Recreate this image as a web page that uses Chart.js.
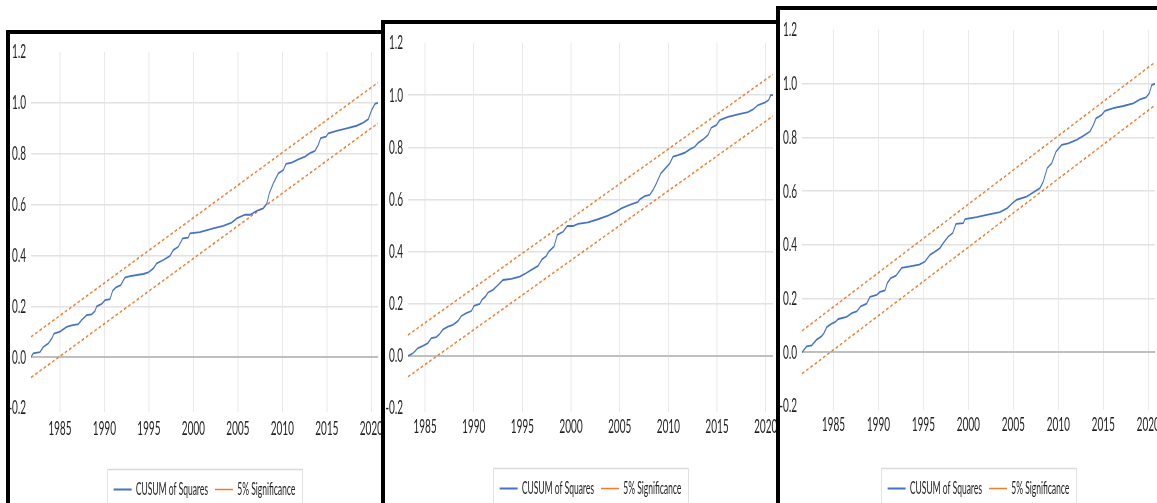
<!DOCTYPE html>
<html>
<head>
<meta charset="utf-8">
<title>CUSUM of Squares</title>
<script src="https://cdn.jsdelivr.net/npm/chart.js@4.4.1/dist/chart.umd.min.js"></script>
<style>
  html, body { margin: 0; padding: 0; background: #fff; width: 1157px; height: 503px; overflow: hidden; }
  .panel { position: absolute; box-sizing: border-box; border: 4px solid #000; background: #fff; overflow: hidden; }
  .squeeze { transform: scaleX(0.5); transform-origin: 0 0; }
  canvas { display: block; }
</style>
</head>
<body>
<div class="panel" style="left:6px; top:30px; width:379px; height:520px;">
  <div class="squeeze"><canvas id="chartA" width="742" height="480"></canvas></div>
</div>
<div class="panel" style="left:381px; top:20px; width:399px; height:520px;">
  <div class="squeeze"><canvas id="chartB" width="782" height="490"></canvas></div>
</div>
<div class="panel" style="left:776px; top:6px; width:400px; height:520px;">
  <div class="squeeze"><canvas id="chartC" width="756" height="500"></canvas></div>
</div>

<script>
// Axis ticks
const xTickValues = [1985, 1990, 1995, 2000, 2005, 2010, 2015, 2020];
const xTickLabels = ['1985', '1990', '1995', '2000', '2005', '2010', '2015', '2020'];
const yTickValues = [-0.2, 0, 0.2, 0.4, 0.6, 0.8, 1.0, 1.2];
const yTickLabels = ['-0.2', '0.0', '0.2', '0.4', '0.6', '0.8', '1.0', '1.2'];

// 5% significance band: values at the first and last observation
const bandUpper = [0.08, 1.08];
const bandLower = [-0.08, 0.92];

// Model A
const yearsA = [
  1981.75, 1982.0, 1982.76, 1983.13, 1983.7, 1984.08, 1984.34, 1985.01, 1985.76, 1986.32,
  1987.07, 1987.45, 1988.0, 1988.57, 1988.94, 1989.13, 1989.7, 1990.07, 1990.63, 1990.93,
  1991.3, 1991.83, 1992.3, 1992.88, 1994.37, 1994.93, 1995.5, 1995.88, 1996.62, 1997.37,
  1997.74, 1998.3, 1998.8, 1999.43, 1999.62, 2000.74, 2002.24, 2003.36, 2004.3, 2004.87,
  2005.8, 2006.37, 2007.12, 2007.86, 2008.24, 2008.53, 2008.98, 2009.55, 2010.11, 2010.41,
  2011.05, 2011.79, 2012.55, 2013.1, 2013.67, 2014.04, 2014.31, 2014.9, 2015.17, 2016.1,
  2017.23, 2018.35, 2019.1, 2019.66, 2020.04, 2020.41, 2020.75
];
const cusumA = [
  0, 0.015, 0.02, 0.04, 0.054, 0.073, 0.093, 0.10, 0.119, 0.125,
  0.13, 0.146, 0.165, 0.168, 0.181, 0.20, 0.209, 0.224, 0.228, 0.261,
  0.274, 0.283, 0.313, 0.319, 0.327, 0.333, 0.349, 0.369, 0.382, 0.398,
  0.421, 0.434, 0.467, 0.47, 0.487, 0.492, 0.506, 0.516, 0.529, 0.546,
  0.56, 0.56, 0.575, 0.585, 0.603, 0.644, 0.683, 0.723, 0.736, 0.76,
  0.765, 0.778, 0.789, 0.802, 0.811, 0.835, 0.861, 0.867, 0.88, 0.89,
  0.90, 0.91, 0.922, 0.936, 0.972, 0.996, 1.0
];

// Model B
const yearsB = [
  1983.25, 1983.76, 1984.28, 1984.79, 1985.3, 1985.65, 1986.16, 1986.5, 1986.85, 1987.36,
  1987.87, 1988.39, 1988.73, 1989.24, 1989.76, 1990.03, 1990.62, 1990.85, 1991.2, 1991.47,
  1991.98, 1992.5, 1993.01, 1993.86, 1994.73, 1995.24, 1995.92, 1996.61, 1997.02, 1997.46,
  1997.71, 1998.25, 1998.59, 1999.18, 1999.62, 2000.2, 2000.72, 2001.74, 2002.77, 2003.8,
  2004.65, 2005.17, 2006.03, 2006.88, 2007.06, 2007.57, 2008.08, 2008.42, 2008.77, 2009.22,
  2009.69, 2010.14, 2010.48, 2011.0, 2011.68, 2012.2, 2012.71, 2013.05, 2013.56, 2014.07,
  2014.41, 2014.93, 2015.27, 2016.13, 2017.15, 2018.18, 2018.7, 2019.21, 2019.9, 2020.31,
  2020.51, 2020.75
];
const cusumB = [
  0, 0.01, 0.03, 0.038, 0.049, 0.068, 0.072, 0.084, 0.102, 0.112,
  0.119, 0.134, 0.153, 0.164, 0.172, 0.192, 0.199, 0.215, 0.227, 0.243,
  0.253, 0.272, 0.291, 0.295, 0.304, 0.314, 0.33, 0.345, 0.37, 0.383,
  0.40, 0.419, 0.464, 0.476, 0.498, 0.498, 0.506, 0.512, 0.524, 0.538,
  0.553, 0.566, 0.579, 0.591, 0.60, 0.613, 0.617, 0.636, 0.662, 0.70,
  0.719, 0.738, 0.764, 0.77, 0.779, 0.792, 0.802, 0.817, 0.83, 0.847,
  0.875, 0.885, 0.904, 0.917, 0.926, 0.935, 0.945, 0.962, 0.971, 0.981,
  1.0, 1.0
];

// Model C
const yearsC = [
  1981.5, 1982.02, 1982.58, 1983.13, 1983.69, 1983.95, 1984.25, 1984.8, 1985.17, 1985.54,
  1986.47, 1987.03, 1987.58, 1988.03, 1988.69, 1989.06, 1989.81, 1990.17, 1990.73, 1990.99,
  1991.36, 1991.95, 1992.58, 1993.51, 1994.54, 1995.18, 1995.73, 1996.29, 1996.84, 1997.21,
  1997.77, 1998.26, 1998.62, 1999.44, 1999.62, 2000.92, 2002.04, 2003.51, 2004.33, 2004.82,
  2005.37, 2006.48, 2007.22, 2007.96, 2008.33, 2008.77, 2009.26, 2009.74, 2010.37, 2011.11,
  2012.04, 2012.78, 2013.52, 2013.89, 2014.19, 2014.82, 2015.19, 2016.11, 2017.23, 2018.34,
  2019.08, 2019.75, 2020.11, 2020.38, 2020.75
];
const cusumC = [
  0, 0.022, 0.026, 0.047, 0.06, 0.072, 0.094, 0.107, 0.112, 0.124,
  0.132, 0.146, 0.152, 0.171, 0.181, 0.206, 0.214, 0.225, 0.23, 0.258,
  0.276, 0.285, 0.314, 0.32, 0.326, 0.338, 0.363, 0.375, 0.388, 0.407,
  0.431, 0.444, 0.478, 0.481, 0.496, 0.503, 0.512, 0.522, 0.537, 0.553,
  0.568, 0.58, 0.595, 0.611, 0.636, 0.686, 0.704, 0.747, 0.772, 0.778,
  0.791, 0.806, 0.822, 0.846, 0.871, 0.884, 0.899, 0.909, 0.917, 0.927,
  0.942, 0.949, 0.964, 0.995, 1.0
];

const BLUE = '#4472C4';
const ORANGE = '#ED7D31';
const TEXT = '#1f1f1f';
const FONT = 'Lato, "Open Sans", "Liberation Sans", sans-serif';

// Thin grey frame around the legend entries
const legendFrame = {
  id: 'legendFrame',
  afterDraw(chart) {
    const boxes = chart.legend && chart.legend.legendHitBoxes;
    if (!boxes || !boxes.length) return;
    const first = boxes[0];
    const last = boxes[boxes.length - 1];
    const cy = first.top + first.height / 2;
    const left = first.left - 12;
    const right = last.left + last.width + 14;
    const c = chart.ctx;
    c.save();
    c.strokeStyle = '#d9d9d9';
    c.lineWidth = 1.5;
    c.strokeRect(left, cy - 20, right - left, 46);
    c.restore();
  }
};

function buildChart(id, years, cusum, layout) {
  const xMin = years[0];
  const xMax = years[years.length - 1];
  const toPoints = (xs, ys) => xs.map((x, i) => ({ x: x, y: ys[i] }));
  return new Chart(document.getElementById(id), {
    type: 'line',
    data: {
      datasets: [
        {
          label: 'CUSUM of Squares',
          data: toPoints(years, cusum),
          borderColor: BLUE,
          backgroundColor: BLUE,
          borderWidth: 1.8,
          pointRadius: 0,
          tension: 0
        },
        {
          label: '5% Significance',
          data: toPoints([xMin, xMax], bandUpper),
          borderColor: ORANGE,
          backgroundColor: ORANGE,
          borderWidth: 1.7,
          borderDash: [5, 4],
          pointRadius: 0
        },
        {
          label: '5% Significance',
          hideInLegend: true,
          data: toPoints([xMin, xMax], bandLower),
          borderColor: ORANGE,
          backgroundColor: ORANGE,
          borderWidth: 1.7,
          borderDash: [5, 4],
          pointRadius: 0
        }
      ]
    },
    options: {
      responsive: false,
      animation: false,
      devicePixelRatio: 1,
      events: [],
      layout: {
        padding: { left: 0, right: layout.padRight, top: layout.plotTop, bottom: layout.padBottom }
      },
      plugins: {
        tooltip: { enabled: false },
        legend: {
          position: 'bottom',
          fullSize: false,
          align: 'center',
          labels: {
            usePointStyle: true,
            pointStyle: 'line',
            pointStyleWidth: 36,
            padding: 14,
            color: TEXT,
            font: { family: FONT, size: 17 },
            filter: (item, data) => !data.datasets[item.datasetIndex].hideInLegend
          }
        }
      },
      scales: {
        x: {
          type: 'linear',
          min: xMin,
          max: xMax,
          border: { display: false },
          grid: { color: '#e9e9e9', lineWidth: 2, drawTicks: true, tickLength: 4 },
          ticks: {
            padding: layout.tickPad,
            autoSkip: false,
            maxRotation: 0,
            minRotation: 0,
            includeBounds: false,
            color: TEXT,
            font: { family: FONT, size: 20 },
            callback: (v, i) => xTickLabels[i]
          },
          afterBuildTicks: s => { s.ticks = xTickValues.map(v => ({ value: v })); },
          afterFit: s => { s.height = layout.xAxisH; s.paddingLeft = 0; s.paddingRight = 0; }
        },
        y: {
          min: -0.2,
          max: 1.2,
          border: { display: false },
          grid: {
            drawTicks: false,
            color: c => {
              const v = c.tick.value;
              if (v === 0) return '#bfbfbf';
              if (v < -0.19 || v > 1.19) return 'rgba(0,0,0,0)';
              return '#e2e2e2';
            },
            lineWidth: c => (c.tick.value === 0 ? 2 : 1.5)
          },
          ticks: {
            padding: 10,
            color: TEXT,
            font: { family: FONT, size: 20 },
            callback: (v, i) => yTickLabels[i]
          },
          afterBuildTicks: s => { s.ticks = yTickValues.map(v => ({ value: v })); },
          afterFit: s => { s.width = layout.yAxisW; s.paddingTop = 0; s.paddingBottom = 0; }
        }
      }
    },
    plugins: [legendFrame]
  });
}

function drawAll() {
  buildChart('chartA', yearsA, cusumA, { plotTop: 18, yAxisW: 42, padRight: 6, xAxisH: 59, padBottom: 6, tickPad: 5 });
  buildChart('chartB', yearsB, cusumB, { plotTop: 19, yAxisW: 46, padRight: 6, xAxisH: 58, padBottom: 7, tickPad: 3 });
  buildChart('chartC', yearsC, cusumC, { plotTop: 20, yAxisW: 44, padRight: 6, xAxisH: 60, padBottom: 3, tickPad: 3 });
}

if (document.fonts && document.fonts.load) {
  Promise.all([document.fonts.load('20px Lato'), document.fonts.load('17px Lato')])
    .then(drawAll, drawAll);
} else {
  drawAll();
}
</script>
</body>
</html>
